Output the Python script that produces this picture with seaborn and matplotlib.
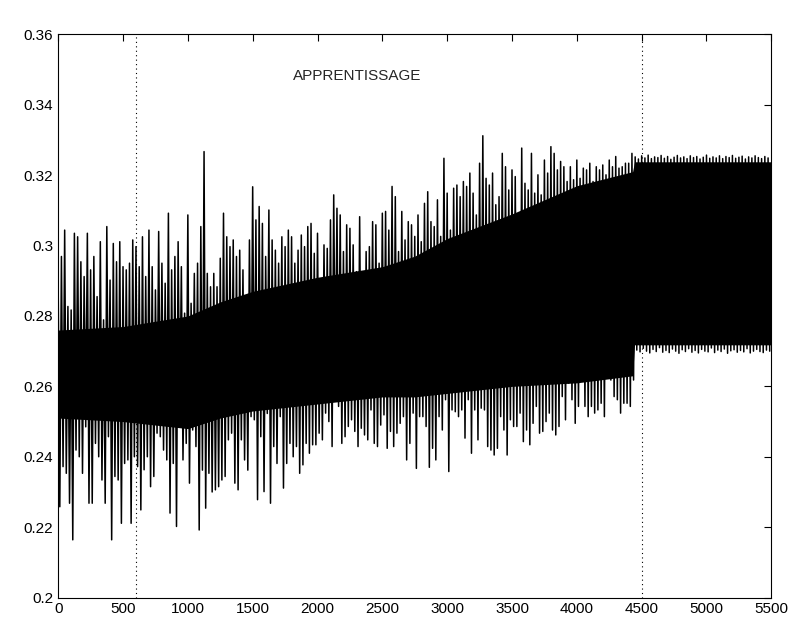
import numpy as np
import pandas as pd
import matplotlib
matplotlib.use('Agg')
import matplotlib.pyplot as plt
import seaborn as sns

# spike tops / bottoms, one every 25 iterations (0 .. 5475)
step = 25
peaks = [
    0.2874, 0.2969, 0.3044, 0.2827, 0.2817, 0.3035, 0.3025, 0.2954,
    0.2912, 0.3035, 0.2931, 0.2969, 0.2855, 0.3011, 0.2789, 0.3054,
    0.2902, 0.3006, 0.2954, 0.3011, 0.2940, 0.2931, 0.2950, 0.3016,
    0.2997, 0.2940, 0.3025, 0.2912, 0.3044, 0.2940, 0.2874, 0.3040,
    0.2950, 0.2893, 0.3092, 0.2931, 0.2969, 0.3011, 0.2940, 0.2808,
    0.3087, 0.2836, 0.2921, 0.2950, 0.3054, 0.3267, 0.2921, 0.2883,
    0.2921, 0.2883, 0.2964, 0.3092, 0.3025, 0.2997, 0.3016, 0.2969,
    0.2987, 0.2931, 0.2855, 0.3016, 0.3167, 0.3073, 0.3111, 0.3063,
    0.2969, 0.3101, 0.3016, 0.2987, 0.2950, 0.3025, 0.2997, 0.3044,
    0.3025, 0.2950, 0.2987, 0.3030, 0.2997, 0.3054, 0.3063, 0.2978,
    0.3035, 0.2902, 0.3002, 0.2992, 0.3073, 0.3144, 0.3106, 0.3087,
    0.2983, 0.3059, 0.3049, 0.3002, 0.2926, 0.3082, 0.2921, 0.2983,
    0.2997, 0.3068, 0.3059, 0.2950, 0.3092, 0.3097, 0.3044, 0.3168,
    0.3139, 0.2983, 0.3097, 0.3016, 0.3068, 0.3059, 0.3026, 0.3087,
    0.3011, 0.3120, 0.3153, 0.3068, 0.3054, 0.3130, 0.3026, 0.3248,
    0.3149, 0.3044, 0.3163, 0.3172, 0.3139, 0.3182, 0.3168, 0.3206,
    0.3149, 0.3087, 0.3234, 0.3312, 0.3191, 0.3172, 0.3206, 0.3116,
    0.3139, 0.3262, 0.3224, 0.3158, 0.3215, 0.3196, 0.3073, 0.3277,
    0.3177, 0.3158, 0.3262, 0.3149, 0.3201, 0.3144, 0.3243, 0.3206,
    0.3281, 0.3262, 0.3215, 0.3239, 0.3224, 0.3182, 0.3224, 0.3187,
    0.3243, 0.3191, 0.3220, 0.3215, 0.3234, 0.3182, 0.3224, 0.3215,
    0.3229, 0.3201, 0.3243, 0.3224, 0.3253, 0.3220, 0.3224, 0.3234,
    0.3234, 0.3262,
    0.3252, 0.3246, 0.3255, 0.3249, 0.3257, 0.3247, 0.3252, 0.3250,
    0.3256, 0.3248, 0.3253, 0.3245, 0.3251, 0.3256, 0.3249, 0.3252,
    0.3247, 0.3255, 0.3250, 0.3253, 0.3246, 0.3251, 0.3257, 0.3248,
    0.3252, 0.3249, 0.3255, 0.3247, 0.3253, 0.3250, 0.3256, 0.3248,
    0.3251, 0.3254, 0.3246, 0.3252, 0.3249, 0.3255, 0.3250, 0.3247,
    0.3253, 0.3249]
troughs = [
    0.2258, 0.2372, 0.2353, 0.2268, 0.2164, 0.2419, 0.2400, 0.2353,
    0.2485, 0.2268, 0.2268, 0.2438, 0.2400, 0.2334, 0.2268, 0.2457,
    0.2164, 0.2344, 0.2334, 0.2211, 0.2381, 0.2391, 0.2211, 0.2400,
    0.2372, 0.2249, 0.2363, 0.2400, 0.2315, 0.2344, 0.2467, 0.2457,
    0.2419, 0.2391, 0.2240, 0.2381, 0.2202, 0.2495, 0.2391, 0.2438,
    0.2325, 0.2476, 0.2429, 0.2192, 0.2362, 0.2254, 0.2353, 0.2300,
    0.2306, 0.2315, 0.2334, 0.2344, 0.2448, 0.2467, 0.2325, 0.2306,
    0.2448, 0.2391, 0.2362, 0.2514, 0.2505, 0.2278, 0.2457, 0.2301,
    0.2523, 0.2268, 0.2429, 0.2381, 0.2514, 0.2311, 0.2381, 0.2438,
    0.2400, 0.2429, 0.2353, 0.2377, 0.2438, 0.2410, 0.2434, 0.2434,
    0.2467, 0.2448, 0.2524, 0.2500, 0.2429, 0.2585, 0.2543, 0.2438,
    0.2457, 0.2486, 0.2505, 0.2472, 0.2429, 0.2481, 0.2462, 0.2448,
    0.2533, 0.2438, 0.2429, 0.2490, 0.2519, 0.2424, 0.2472, 0.2429,
    0.2467, 0.2495, 0.2514, 0.2391, 0.2438, 0.2524, 0.2367, 0.2514,
    0.2514, 0.2486, 0.2370, 0.2424, 0.2391, 0.2514, 0.2476, 0.2562,
    0.2358, 0.2533, 0.2528, 0.2514, 0.2533, 0.2453, 0.2562, 0.2410,
    0.2533, 0.2448, 0.2538, 0.2533, 0.2429, 0.2419, 0.2405, 0.2424,
    0.2514, 0.2476, 0.2405, 0.2505, 0.2486, 0.2486, 0.2524, 0.2443,
    0.2476, 0.2434, 0.2495, 0.2543, 0.2467, 0.2472, 0.2500, 0.2524,
    0.2476, 0.2462, 0.2486, 0.2571, 0.2505, 0.2609, 0.2562, 0.2495,
    0.2543, 0.2618, 0.2543, 0.2514, 0.2543, 0.2524, 0.2533, 0.2552,
    0.2514, 0.2637, 0.2618, 0.2571, 0.2562, 0.2524, 0.2552, 0.2552,
    0.2543, 0.2618,
    0.2703, 0.2698, 0.2708, 0.2700, 0.2695, 0.2705, 0.2699, 0.2710,
    0.2697, 0.2702, 0.2696, 0.2706, 0.2700, 0.2694, 0.2704, 0.2699,
    0.2707, 0.2697, 0.2702, 0.2695, 0.2705, 0.2700, 0.2698, 0.2709,
    0.2696, 0.2703, 0.2699, 0.2706, 0.2694, 0.2701, 0.2704, 0.2697,
    0.2702, 0.2698, 0.2707, 0.2695, 0.2700, 0.2705, 0.2699, 0.2696,
    0.2703, 0.2700]

# solid black core of the band
core_x = [0, 500, 1000, 1250, 1500, 2000, 2500, 2750, 3000, 3500, 4000, 4430, 4445, 5500]
core_hi = [0.276, 0.277, 0.280, 0.284, 0.287, 0.291, 0.294, 0.297, 0.302, 0.309, 0.317, 0.321, 0.3238, 0.3238]
core_lo = [0.251, 0.250, 0.248, 0.251, 0.253, 0.255, 0.257, 0.257, 0.258, 0.260, 0.261, 0.263, 0.2718, 0.2718]

markers = [600, 4500]
label = 'APPRENTISSAGE'
xticks = list(range(0, 5501, 500))
yticks = [0.2, 0.22, 0.24, 0.26, 0.28, 0.3, 0.32, 0.34, 0.36]
ytick_labels = ['0.2', '0.22', '0.24', '0.26', '0.28', '0.3', '0.32', '0.34', '0.36']

iters, vals = [], []
for i, (p, t) in enumerate(zip(peaks, troughs)):
    iters += [i * step, i * step + step / 2]
    vals += [p, t]
df = pd.DataFrame({'iteration': iters, 'value': vals})

sns.set_style('white')
plt.rcParams['font.family'] = ['Liberation Sans', 'DejaVu Sans']
fs = 11

fig = plt.figure(figsize=(7.96, 6.40), dpi=100)
ax = fig.add_axes([0.0731, 0.0663, 0.8959, 0.88])

ax.fill_between(core_x, core_lo, core_hi, color='black', lw=0)
sns.lineplot(data=df, x='iteration', y='value', sort=False, estimator=None,
             color='black', lw=1.1, ax=ax)
for m in markers:
    ax.axvline(m, color='black', lw=0.8, ls=(0, (1, 3)))

ax.text(1811, 0.3482, label, fontsize=fs, va='center', ha='left')

ax.set_xlim(0, 5500)
ax.set_ylim(0.2, 0.36)
ax.set_xticks(xticks)
ax.set_xticklabels([str(v) for v in xticks])
ax.set_yticks(yticks)
ax.set_yticklabels(ytick_labels)
ax.set_xlabel('')
ax.set_ylabel('')
ax.tick_params(direction='in', length=5, width=0.8, top=True, right=True,
               labelsize=fs, colors='black', pad=3.5)
for s in ax.spines.values():
    s.set_visible(True)
    s.set_color('black')
    s.set_linewidth(0.8)

fig.savefig('out.png', dpi=100, facecolor='white')
